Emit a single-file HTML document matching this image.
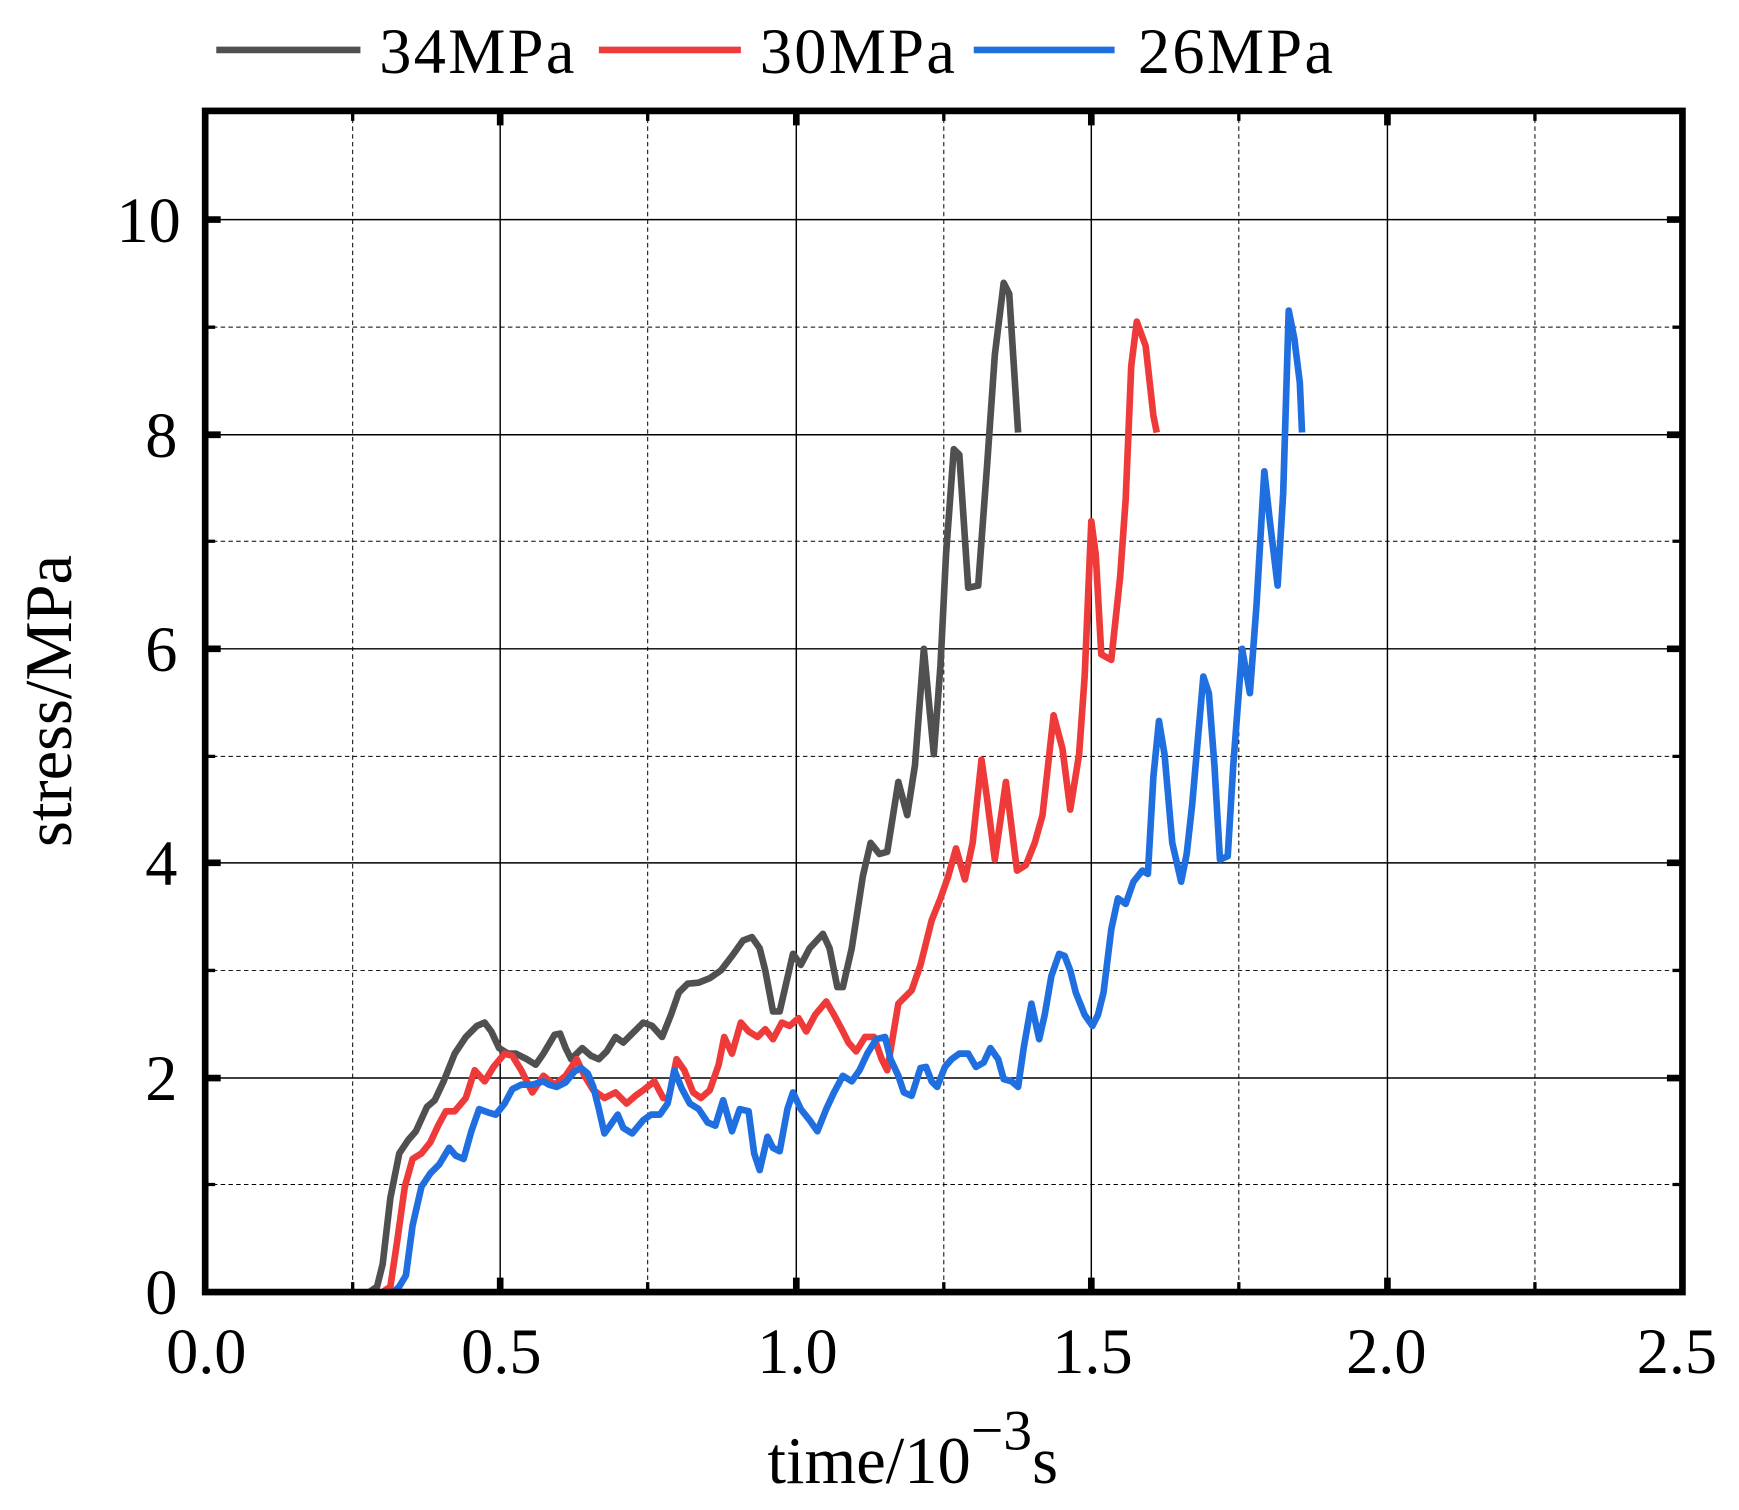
<!DOCTYPE html>
<html><head><meta charset="utf-8"><style>
html,body{margin:0;padding:0;background:#fff}
svg{display:block}
text{font-family:"Liberation Serif",serif;fill:#000}
</style></head><body>
<svg width="1739" height="1510" viewBox="0 0 1568 1361.5" preserveAspectRatio="none" xmlns="http://www.w3.org/2000/svg">
<g stroke="#000" stroke-width="0.9" stroke-dasharray="4,3">
<line x1="318" y1="100" x2="318" y2="1165"/><line x1="584" y1="100" x2="584" y2="1165"/><line x1="851" y1="100" x2="851" y2="1165"/><line x1="1117" y1="100" x2="1117" y2="1165"/><line x1="1384" y1="100" x2="1384" y2="1165"/>
<line x1="185" y1="1068" x2="1517" y2="1068"/><line x1="185" y1="875" x2="1517" y2="875"/><line x1="185" y1="682" x2="1517" y2="682"/><line x1="185" y1="488" x2="1517" y2="488"/><line x1="185" y1="295" x2="1517" y2="295"/>
</g>
<g stroke="#000" stroke-width="1.3">
<line x1="451" y1="100" x2="451" y2="1165"/><line x1="718" y1="100" x2="718" y2="1165"/><line x1="984" y1="100" x2="984" y2="1165"/><line x1="1251" y1="100" x2="1251" y2="1165"/>
<line x1="185" y1="972" x2="1517" y2="972"/><line x1="185" y1="778" x2="1517" y2="778"/><line x1="185" y1="585" x2="1517" y2="585"/><line x1="185" y1="392" x2="1517" y2="392"/><line x1="185" y1="198" x2="1517" y2="198"/>
</g>
<g stroke="#000" stroke-width="6">
<path d="M185 972h14M185 778h14M185 585h14M185 392h14M185 198h14M1517 972h-14M1517 778h-14M1517 585h-14M1517 392h-14M1517 198h-14M451 100v13M718 100v13M984 100v13M1251 100v13M451 1165v-13M718 1165v-13M984 1165v-13M1251 1165v-13"/>
</g>
<g stroke="#000" stroke-width="3">
<path d="M185 1068h9M185 875h9M185 682h9M185 488h9M185 295h9M1517 1068h-9M1517 875h-9M1517 682h-9M1517 488h-9M1517 295h-9M318 100v9M584 100v9M851 100v9M1117 100v9M1384 100v9M318 1165v-9M584 1165v-9M851 1165v-9M1117 1165v-9M1384 1165v-9"/>
</g>
<g fill="none" stroke-width="6" stroke-linejoin="round">
<polyline stroke="#505050" points="333,1165 340,1160 345,1140 352,1080 360,1040 368,1028 375,1020 385,998 392,992 400,975 410,950 420,935 430,925 437,922 443,930 450,945 458,950 465,950 475,955 483,960 490,950 500,933 505,932 510,945 515,955 525,945 533,952 540,955 547,948 555,935 562,940 570,932 580,922 588,925 597,935 605,915 612,895 620,887 630,886 640,882 650,875 660,862 670,848 678,845 685,855 690,875 697,912 703,912 715,860 722,870 730,855 742,842 748,855 755,890 760,890 768,855 778,790 785,760 793,770 800,768 810,705 818,735 825,690 833,585 842,680 848,600 853,500 860,405 865,410 873,530 882,528 890,420 897,320 905,255 910,265 918,390"/>
<polyline stroke="#ef3a3a" points="345,1165 352,1160 358,1120 365,1070 372,1045 380,1040 388,1030 395,1015 402,1002 410,1002 420,990 428,965 437,975 445,962 455,950 462,952 470,965 480,985 490,970 500,978 510,970 520,955 527,970 535,983 545,990 555,985 565,995 573,988 580,983 590,975 598,990 603,990 610,955 617,965 625,985 632,990 640,983 648,960 653,935 660,950 668,922 675,930 683,935 690,928 697,937 705,922 712,925 720,918 727,930 735,915 745,903 752,915 760,930 765,940 772,948 780,935 788,935 795,955 800,965 805,935 810,905 815,900 822,893 830,870 840,830 848,810 855,790 862,765 870,793 877,760 885,685 890,720 897,775 907,705 917,785 925,780 933,760 940,735 950,645 958,675 965,730 973,680 978,610 984,470 988,500 993,590 1002,595 1010,520 1015,450 1020,330 1025,290 1033,312 1040,375 1043,390"/>
<polyline stroke="#1f6fe0" points="355,1165 360,1160 366,1150 372,1105 380,1070 388,1058 396,1050 405,1035 411,1042 418,1045 425,1020 432,1000 440,1003 447,1005 455,995 462,982 470,978 480,978 490,975 495,978 502,980 510,976 518,966 524,963 530,968 535,980 540,1000 545,1022 550,1015 557,1005 562,1017 570,1022 580,1010 587,1005 595,1005 602,995 608,965 615,982 622,995 630,1000 638,1012 645,1015 652,992 660,1020 667,1000 675,1002 680,1040 685,1055 692,1025 697,1035 703,1038 710,1000 715,985 722,1000 730,1010 737,1020 745,1000 752,985 760,970 768,975 775,965 782,950 790,937 798,935 803,955 810,970 815,985 822,988 830,963 835,962 840,975 845,980 852,962 858,955 865,950 873,950 880,962 887,958 893,945 900,955 905,973 912,975 918,980 923,945 930,905 937,937 942,915 948,880 955,860 960,862 965,875 970,895 978,915 985,925 990,915 995,895 1002,838 1008,810 1015,815 1022,795 1030,785 1035,788 1040,700 1045,650 1050,680 1057,760 1065,795 1070,770 1075,725 1085,610 1090,625 1095,690 1100,775 1107,772 1112,690 1120,585 1127,625 1133,545 1140,425 1145,470 1152,528 1157,445 1162,280 1167,305 1172,345 1174,390"/>
</g>
<rect x="185" y="100" width="1332" height="1065" fill="none" stroke="#000" stroke-width="6"/>
<g font-size="58" text-anchor="end">
<text x="160" y="1185">0</text><text x="160" y="992">2</text><text x="160" y="798">4</text><text x="160" y="605">6</text><text x="160" y="412">8</text><text x="163" y="218">10</text>
</g>
<g font-size="58" text-anchor="middle">
<text x="186" y="1238">0.0</text><text x="452" y="1238">0.5</text><text x="719" y="1238">1.0</text><text x="985" y="1238">1.5</text><text x="1250" y="1238">2.0</text><text x="1512" y="1238">2.5</text>
</g>
<text x="823" y="1337" font-size="60" text-anchor="middle">time/10<tspan dy="-30" font-size="52">−3</tspan><tspan dy="30">s</tspan></text>
<text transform="translate(64,632) rotate(-90)" font-size="60" text-anchor="middle">stress/MPa</text>
<g stroke-width="6">
<line x1="195" y1="45" x2="325" y2="45" stroke="#505050"/>
<line x1="540" y1="45" x2="668" y2="45" stroke="#ef3a3a"/>
<line x1="878" y1="45" x2="1005" y2="45" stroke="#1f6fe0"/>
</g>
<g font-size="58">
<text x="342" y="66" textLength="176">34MPa</text><text x="685" y="66" textLength="176">30MPa</text><text x="1026" y="66" textLength="176">26MPa</text>
</g>
</svg>
</body></html>
